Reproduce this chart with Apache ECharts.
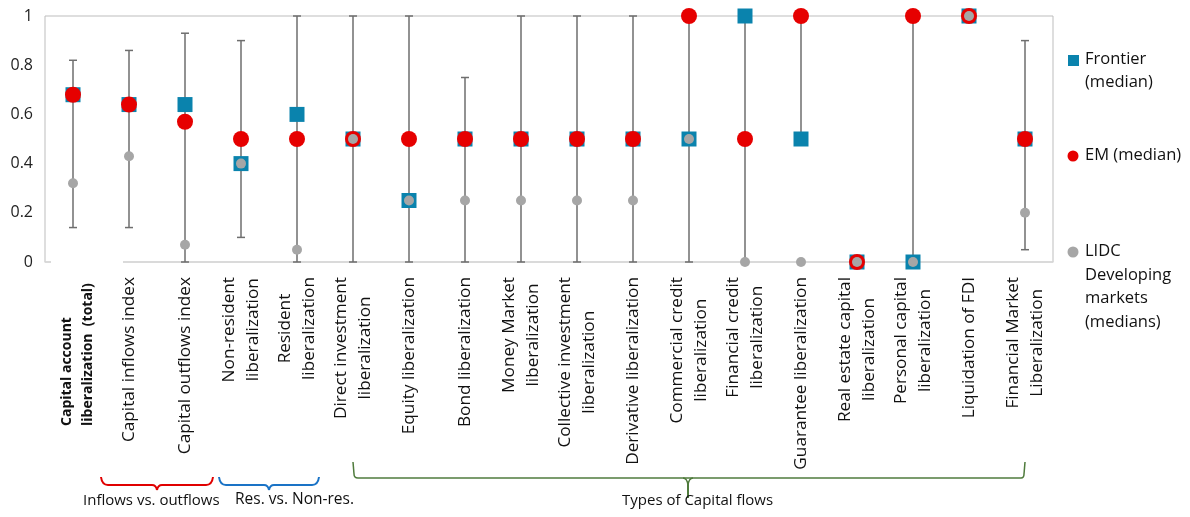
<!DOCTYPE html>
<html>
<head>
<meta charset="utf-8">
<script src="https://cdn.jsdelivr.net/npm/echarts@6/dist/echarts.min.js"></script>
<style>
  html, body { margin: 0; padding: 0; background: #fff; }
  #chart { width: 1190px; height: 517px; }
</style>
</head>
<body>
<div id="chart"></div>
<script>
// categories (line breaks as in the original labels)
var categories = [
    'Capital account\nliberalization  (total)',
    'Capital inflows index',
    'Capital outflows index',
    'Non-resident\nliberalization',
    'Resident\nliberalization',
    'Direct investment\nliberalization',
    'Equity liberalization',
    'Bond liberalization',
    'Money Market\nliberalization',
    'Collective investment\nliberalization',
    'Derivative liberalization',
    'Commercial credit\nliberalization',
    'Financial credit\nliberalization',
    'Guarantee liberalization',
    'Real estate capital\nliberalization',
    'Personal capital\nliberalization',
    'Liquidation of FDI',
    'Financial Market\nLiberalization'
];

var frontier = [0.68, 0.64, 0.64, 0.40, 0.60, 0.50, 0.25, 0.50, 0.50, 0.50, 0.50, 0.50, 1.00, 0.50, 0.00, 0.00, 1.00, 0.50];
var em       = [0.68, 0.64, 0.57, 0.50, 0.50, 0.50, 0.50, 0.50, 0.50, 0.50, 0.50, 1.00, 0.50, 1.00, 0.00, 1.00, 1.00, 0.50];
var lidc     = [0.32, 0.43, 0.07, 0.40, 0.05, 0.50, 0.25, 0.25, 0.25, 0.25, 0.25, 0.50, 0.00, 0.00, 0.00, 0.00, 1.00, 0.20];

// range bars (min / max), null = no bar
var rangeLow  = [0.14, 0.14, 0.00, 0.10, 0.00, 0.00, 0.00, 0.00, 0.00, 0.00, 0.00, 0.00, 0.00, 0.50, null, 0.00, null, 0.05];
var rangeHigh = [0.82, 0.86, 0.93, 0.90, 1.00, 1.00, 1.00, 0.75, 1.00, 1.00, 1.00, 1.00, 1.00, 1.00, null, 1.00, null, 0.90];

var yTicks = [0, 0.2, 0.4, 0.6, 0.8, 1];

var FONT = '"Open Sans", "Noto Sans", sans-serif';
var LABEL_FONT = '17.2px ' + FONT;
var BOLD_FONT = 'bold 14px ' + FONT;
var TEAL = '#0a83ad';
var RED = '#e60000';
var GREY = '#a6a6a6';
var INK = '#111';

var rangeData = [];
categories.forEach(function (c, i) {
    if (rangeLow[i] !== null) {
        rangeData.push([i, rangeLow[i], rangeHigh[i]]);
    }
});

function renderRange(params, api) {
    var lo = api.coord([api.value(0), api.value(1)]);
    var hi = api.coord([api.value(0), api.value(2)]);
    var cap = 4;
    var st = {stroke: '#6e6e6e', lineWidth: 1.5};
    return {
        type: 'group',
        children: [
            {type: 'line', shape: {x1: lo[0], y1: lo[1], x2: hi[0], y2: hi[1]}, style: st},
            {type: 'line', shape: {x1: lo[0] - cap, y1: lo[1], x2: lo[0] + cap, y2: lo[1]}, style: st},
            {type: 'line', shape: {x1: hi[0] - cap, y1: hi[1], x2: hi[0] + cap, y2: hi[1]}, style: st}
        ]
    };
}

// rotated category labels: lines centred on each other, block hanging under the axis
var measureCtx = document.createElement('canvas').getContext('2d');
function textWidth(s, font) {
    measureCtx.font = font;
    return measureCtx.measureText(s).width;
}

function renderCategoryLabel(params, api) {
    var i = api.value(0);
    var base = api.coord([i, 0]);
    var lines = categories[i].split('\n');
    var children = [];
    if (i === 0) {
        // bold total label, lines start at the same height
        var step0 = 21;
        lines.forEach(function (s, j) {
            children.push({
                type: 'text',
                x: base[0] + 5 + (j - (lines.length - 1) / 2) * step0,
                y: base[1] + 164,
                rotation: Math.PI / 2,
                style: {text: s, font: BOLD_FONT, fill: INK, align: 'left', verticalAlign: 'middle'}
            });
        });
    } else {
        var step = 24.5;
        var maxW = Math.max.apply(null, lines.map(function (s) { return textWidth(s, LABEL_FONT); }));
        lines.forEach(function (s, j) {
            children.push({
                type: 'text',
                x: base[0] + (j - (lines.length - 1) / 2) * step,
                y: base[1] + 15 + maxW / 2,
                rotation: Math.PI / 2,
                style: {text: s, font: LABEL_FONT, fill: INK, align: 'center', verticalAlign: 'middle'}
            });
        });
    }
    return {type: 'group', children: children};
}

// curly brace under a group of categories, built from lines and curves
function brace(x1, x2, xm, yTop, yLine, yTip, color, width) {
    var st = {stroke: color, lineWidth: width, fill: null};
    var r = 7;
    return [
        {type: 'bezierCurve', shape: {x1: x1, y1: yTop, x2: x1 + r, y2: yLine, cpx1: x1 + 1, cpy1: yLine}, style: st},
        {type: 'line', shape: {x1: x1 + r, y1: yLine, x2: xm - 5, y2: yLine}, style: st},
        {type: 'bezierCurve', shape: {x1: xm - 5, y1: yLine, x2: xm, y2: yTip, cpx1: xm - 1, cpy1: yLine}, style: st},
        {type: 'bezierCurve', shape: {x1: xm, y1: yTip, x2: xm + 5, y2: yLine, cpx1: xm + 1, cpy1: yLine}, style: st},
        {type: 'line', shape: {x1: xm + 5, y1: yLine, x2: x2 - r, y2: yLine}, style: st},
        {type: 'bezierCurve', shape: {x1: x2 - r, y1: yLine, x2: x2, y2: yTop, cpx1: x2 - 1, cpy1: yLine}, style: st}
    ];
}

var green = '#4f7b3c';
var graphics = [
    // gap in the bottom axis line behind the bold label
    {type: 'rect', shape: {x: 51, y: 259, width: 72, height: 6}, style: {fill: '#fff'}, z: 10},

    // legend
    {type: 'rect', shape: {x: 1068, y: 55, width: 11, height: 11}, style: {fill: TEAL}},
    {type: 'text', x: 1085, y: 48, style: {text: 'Frontier\n(median)', font: '16.5px ' + FONT, fill: INK, lineHeight: 23}},
    {type: 'circle', shape: {cx: 1073, cy: 156, r: 5.5}, style: {fill: RED}},
    {type: 'text', x: 1085, y: 144, style: {text: 'EM (median)', font: '16.5px ' + FONT, fill: INK, lineHeight: 23}},
    {type: 'circle', shape: {cx: 1073, cy: 252, r: 5.5}, style: {fill: GREY}},
    {type: 'text', x: 1085, y: 240, style: {text: 'LIDC\nDeveloping\nmarkets\n(medians)', font: '16.5px ' + FONT, fill: INK, lineHeight: 23.5}},

    // green bracket (Types of Capital flows)
    {type: 'line', shape: {x1: 353, y1: 462, x2: 354, y2: 474}, style: {stroke: green, lineWidth: 1.5}},
    {type: 'bezierCurve', shape: {x1: 354, y1: 474, x2: 358, y2: 478, cpx1: 354, cpy1: 478}, style: {stroke: green, lineWidth: 1.5, fill: null}},
    {type: 'line', shape: {x1: 358, y1: 478, x2: 1021, y2: 478}, style: {stroke: green, lineWidth: 1.5}},
    {type: 'bezierCurve', shape: {x1: 1021, y1: 478, x2: 1024, y2: 474, cpx1: 1024, cpy1: 478}, style: {stroke: green, lineWidth: 1.5, fill: null}},
    {type: 'line', shape: {x1: 1024, y1: 474, x2: 1025, y2: 462}, style: {stroke: green, lineWidth: 1.5}},
    {type: 'bezierCurve', shape: {x1: 683, y1: 478, x2: 688, y2: 485, cpx1: 687, cpy1: 478}, style: {stroke: green, lineWidth: 1.5, fill: null}},
    {type: 'bezierCurve', shape: {x1: 693, y1: 478, x2: 688, y2: 485, cpx1: 689, cpy1: 478}, style: {stroke: green, lineWidth: 1.5, fill: null}},
    {type: 'line', shape: {x1: 688, y1: 484, x2: 688, y2: 498}, style: {stroke: green, lineWidth: 2}},

    {type: 'text', x: 83, y: 493, style: {text: 'Inflows vs. outflows', font: '15px ' + FONT, fill: INK}},
    {type: 'text', x: 235, y: 492, style: {text: 'Res. vs. Non-res.', font: '15.5px ' + FONT, fill: INK}},
    {type: 'text', x: 622, y: 493, style: {text: 'Types of Capital flows', font: '15px ' + FONT, fill: INK}}
]
    .concat(brace(101, 213, 157, 477, 485, 490, '#e00000', 2))
    .concat(brace(219, 319, 269, 477, 485, 490, '#1a73c6', 2));

var chart = echarts.init(document.getElementById('chart'));

chart.setOption({
    animation: false,
    backgroundColor: '#fff',
    grid: {
        left: 45,
        right: 137,
        top: 16,
        bottom: 255,
        show: true,
        borderColor: '#bdbdbd',
        borderWidth: 1
    },
    xAxis: {
        type: 'category',
        data: categories,
        boundaryGap: true,
        axisLine: {lineStyle: {color: '#d9d9d9', width: 1.5}},
        axisTick: {show: false},
        axisLabel: {show: false}
    },
    yAxis: {
        type: 'value',
        min: 0,
        max: 1,
        interval: 0.2,
        axisLine: {show: false},
        axisTick: {show: false},
        splitLine: {show: false},
        axisLabel: {
            margin: 12,
            fontFamily: FONT,
            fontSize: 16,
            color: '#222',
            formatter: function (v) {
                var t = yTicks.filter(function (x) { return Math.abs(x - v) < 1e-6; })[0];
                return t === undefined ? '' : String(t);
            }
        }
    },
    series: [
        {
            name: 'labels',
            type: 'custom',
            renderItem: renderCategoryLabel,
            data: categories.map(function (c, i) { return [i, 0]; }),
            clip: false,
            silent: true,
            z: 1
        },
        {
            name: 'range',
            type: 'custom',
            renderItem: renderRange,
            data: rangeData,
            z: 2,
            silent: true
        },
        {
            name: 'Frontier (median)',
            type: 'scatter',
            symbol: 'rect',
            symbolSize: 15,
            itemStyle: {color: TEAL, opacity: 1},
            data: frontier,
            z: 3
        },
        {
            name: 'EM (median)',
            type: 'scatter',
            symbol: 'circle',
            symbolSize: 16,
            itemStyle: {color: RED, opacity: 1},
            data: em,
            z: 4
        },
        {
            name: 'LIDC Developing markets (medians)',
            type: 'scatter',
            symbol: 'circle',
            symbolSize: 10,
            itemStyle: {color: GREY, opacity: 1},
            data: lidc,
            z: 5
        }
    ],
    graphic: graphics
});
</script>
</body>
</html>
